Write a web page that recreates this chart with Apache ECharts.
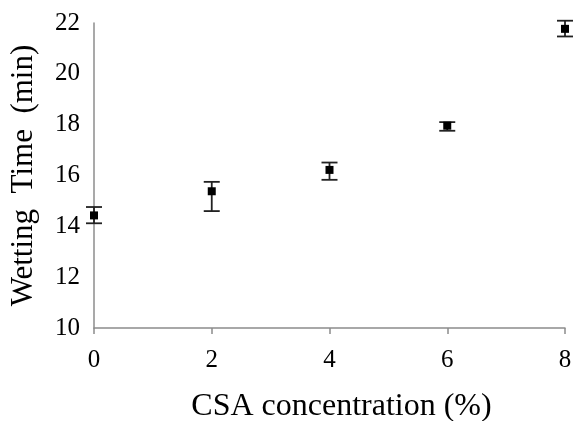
<!DOCTYPE html>
<html>
<head>
<meta charset="utf-8">
<script src="https://cdn.jsdelivr.net/npm/echarts@6/dist/echarts.min.js"></script>
<style>
	html, body { margin: 0; padding: 0; background: #fff; }
	#main { width: 573px; height: 421px; }
</style>
</head>
<body>
<div id="main"></div>
<script>
	// CSA concentration (%) vs wetting time (min)
	const concentration = [0, 2, 4, 6, 8];
	const wettingTime = [14.43, 15.38, 16.22, 17.96, 21.77];
	const errLow = [14.12, 14.6, 15.83, 17.76, 21.47];
	const errHigh = [14.76, 15.75, 16.51, 18.1, 22.09];
	const xTicks = [0, 2, 4, 6, 8];
	const yTicks = [10, 12, 14, 16, 18, 20, 22];

	const font = '"Liberation Serif", "Times New Roman", serif';

	const points = concentration.map((c, i) => [c, wettingTime[i]]);
	const bars = concentration.map((c, i) => [c, errLow[i], errHigh[i]]);

	const chart = echarts.init(document.getElementById('main'));
	chart.setOption({
		animation: false,
		grid: { left: 94, right: 8, top: 23, bottom: 93, outerBoundsMode: 'none' },
		xAxis: {
			type: 'value',
			min: xTicks[0],
			max: xTicks[xTicks.length - 1],
			interval: 2,
			name: 'CSA concentration (%)',
			nameLocation: 'middle',
			nameGap: 63,
			nameTextStyle: { fontFamily: font, fontSize: 32, color: '#000', padding: [0, 0, 0, 24] },
			axisLine: { lineStyle: { color: '#8c8c8c', width: 1.5 } },
			axisTick: { show: true, length: 6, lineStyle: { color: '#8c8c8c', width: 1.5 } },
			axisLabel: { fontFamily: font, fontSize: 25, color: '#000', margin: 20 },
			splitLine: { show: false }
		},
		yAxis: {
			type: 'value',
			min: yTicks[0],
			max: yTicks[yTicks.length - 1],
			interval: 2,
			name: 'Wetting  Time  (min)',
			nameLocation: 'middle',
			nameGap: 55,
			nameRotate: 90,
			nameTextStyle: { fontFamily: font, fontSize: 31, color: '#000' },
			axisLine: { show: true, lineStyle: { color: '#8c8c8c', width: 1.5 } },
			axisTick: { show: false },
			axisLabel: { fontFamily: font, fontSize: 25, color: '#000', margin: 14 },
			splitLine: { show: false }
		},
		series: [{
			type: 'custom',
			clip: false,
			data: bars,
			renderItem: function (params, api) {
				const x = api.value(0);
				const lo = api.coord([x, api.value(1)]);
				const hi = api.coord([x, api.value(2)]);
				const w = 8;
				const style = { stroke: '#222', lineWidth: 1.8 };
				return {
					type: 'group',
					children: [
						{ type: 'line', shape: { x1: lo[0], y1: lo[1], x2: hi[0], y2: hi[1] }, style: style },
						{ type: 'line', shape: { x1: hi[0] - w, y1: hi[1], x2: hi[0] + w, y2: hi[1] }, style: style },
						{ type: 'line', shape: { x1: lo[0] - w, y1: lo[1], x2: lo[0] + w, y2: lo[1] }, style: style }
					]
				};
			},
			z: 2
		}, {
			type: 'scatter',
			data: points,
			symbol: 'rect',
			symbolSize: 8,
			itemStyle: { color: '#000', opacity: 1 },
			clip: false,
			z: 3
		}]
	});
</script>
</body>
</html>
